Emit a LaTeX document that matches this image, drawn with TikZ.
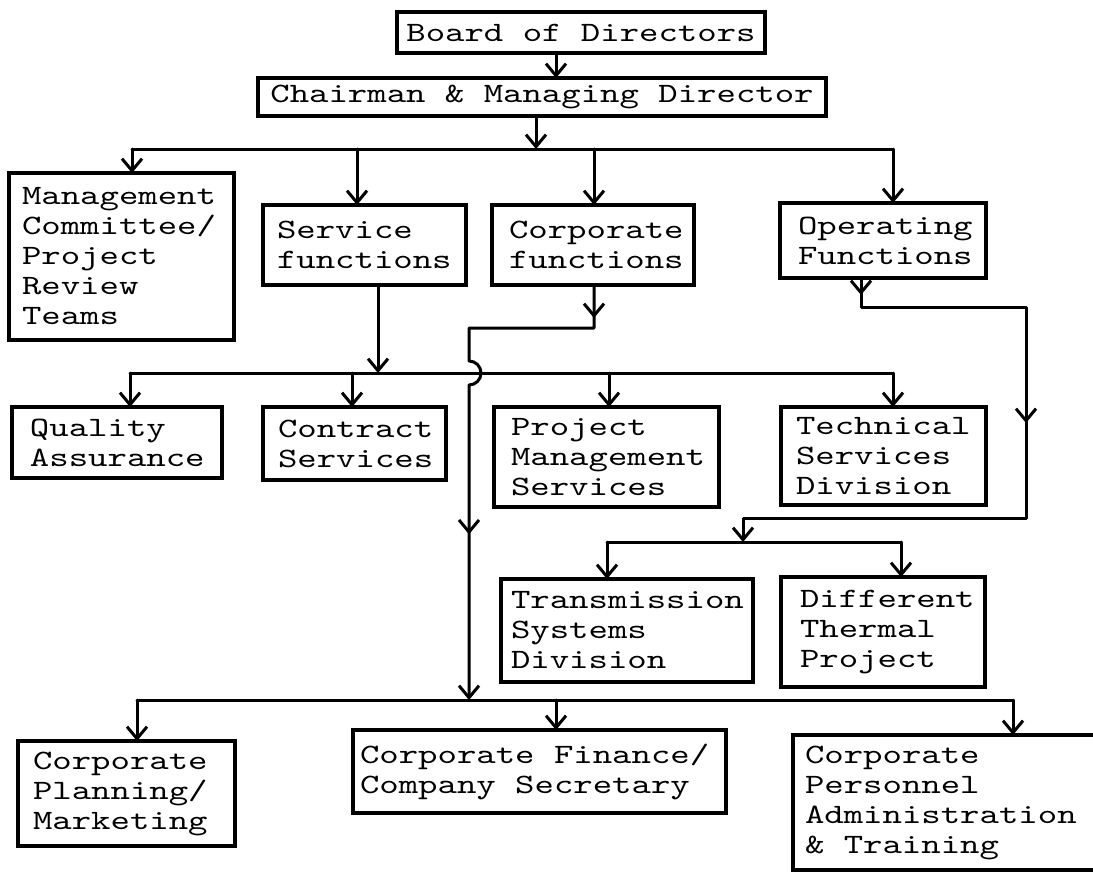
\documentclass[tikz,border=0pt]{standalone}
\usepackage{fontspec}
\newfontfamily\tw{lmmono10-regular.otf}[FakeStretch=1.32]
\usetikzlibrary{arrows.meta,decorations.markings}
\begin{document}
\begin{tikzpicture}[x=0.5pt,y=-0.5pt,
  font=\tw\fontsize{14}{15}\selectfont,
  bx/.style={draw, line width=1.9pt, rectangle, anchor=north west, outer sep=0pt, inner ysep=0pt, align=left},
  ln/.style={line width=1.5pt, line cap=round, line join=round},
  arr/.style={ln, -{Straight Barb[length=6pt,width=10pt]}},
  midarr/.style={postaction={decorate, decoration={markings, mark=at position #1 with {\arrow{Straight Barb[length=6pt,width=10pt]}}}}}
]
\useasboundingbox[fill=white] (0,0) rectangle (1093,879);

% boxes
\node[bx, minimum width=184pt, minimum height=20.5pt, align=center, inner xsep=0pt] (board) at (397,12) {Board of Directors};
\node[bx, minimum width=284pt, minimum height=19pt, align=center, inner xsep=0pt] (chair) at (258,78) {Chairman \& Managing Director};
\node[bx, minimum width=112.5pt, minimum height=83.5pt, inner xsep=6.5pt, text width=99.5pt] (mgmt) at (9,173) {Management\\Committee/\\Project\\Review\\Teams};
\node[bx, minimum width=101.5pt, minimum height=40pt, inner xsep=7pt, text width=87.5pt] (serv) at (263,205) {Service\\functions};
\node[bx, minimum width=101pt, minimum height=40pt, inner xsep=8.5pt, text width=84pt] (corp) at (492,205) {Corporate\\functions};
\node[bx, minimum width=103pt, minimum height=37.5pt, inner xsep=9pt, text width=85pt] (oper) at (780,203) {Operating\\Functions};
\node[bx, minimum width=105pt, minimum height=35.5pt, inner xsep=9pt, text width=87pt] (qual) at (12,407) {Quality\\Assurance};
\node[bx, minimum width=91.5pt, minimum height=36.5pt, inner xsep=7.5pt, text width=76.5pt] (contr) at (263,407) {Contract\\Services};
\node[bx, minimum width=112.5pt, minimum height=50pt, inner xsep=8.5pt, text width=95.5pt] (pm) at (494,407) {Project\\Management\\Services};
\node[bx, minimum width=102.5pt, minimum height=49pt, inner xsep=7.5pt, text width=87.5pt] (tech) at (781,407) {Technical\\Services\\Division};
\node[bx, minimum width=126pt, minimum height=51.5pt, inner xsep=5pt, text width=116pt] (trans) at (501,579) {Transmission\\Systems\\Division};
\node[bx, minimum width=102pt, minimum height=55pt, inner xsep=9.5pt, text width=83pt] (diff) at (781,577) {Different\\Thermal\\Project};
\node[bx, minimum width=108.5pt, minimum height=52.5pt, inner xsep=7.5pt, text width=93.5pt] (plan) at (18,741) {Corporate\\Planning/\\Marketing};
\node[bx, minimum width=186.5pt, minimum height=41.5pt, inner xsep=3.5pt, text width=179.5pt] (fin) at (353,730) {\spaceskip=0pt \xspaceskip=0pt Corporate Finance/\\Company Secretary};
\node[bx, draw=none, minimum width=150pt, minimum height=67.5pt, inner xsep=6pt, text width=138pt] (pers) at (793,735) {\spaceskip=0pt \xspaceskip=0pt Corporate\\Personnel\\Administration\\\& Training};
\draw[line width=1.9pt] (pers.north east) -- (pers.north west) -- (pers.south west) -- (pers.south east);

% coordinates
\coordinate (xa) at (556,0);
\coordinate (xb) at (536,149);
\coordinate (m1) at (132,149);
\coordinate (s1) at (357,149);
\coordinate (c1) at (594,149);
\coordinate (o1) at (893,149);
\coordinate (s2) at (378,373);
\coordinate (q2) at (130,373);
\coordinate (k2) at (352,373);
\coordinate (p2) at (609,373);
\coordinate (t2) at (893,373);
\coordinate (cA) at (594,328);
\coordinate (cB) at (469,328);
\coordinate (h1) at (469,361);
\coordinate (cC) at (469,700);
\coordinate (oA) at (861,307);
\coordinate (oB) at (1026,307);
\coordinate (oC) at (1026,518);
\coordinate (oD) at (743,518);
\coordinate (oE) at (743,542);
\coordinate (l1) at (607,542);
\coordinate (l2) at (901,542);
\coordinate (z1) at (137,700);
\coordinate (z2) at (556,700);
\coordinate (z3) at (1013,700);

% top level
\draw[arr] (xa |- board.south) -- (xa |- chair.north);
\draw[arr] (xb |- chair.south) -- (xb);
\draw[ln] (m1) -- (o1);
\draw[arr] (m1) -- (m1 |- mgmt.north);
\draw[arr] (s1) -- (s1 |- serv.north);
\draw[arr] (c1) -- (c1 |- corp.north);
\draw[arr] (o1) -- (o1 |- oper.north);

% service functions bus
\draw[arr] (s2 |- serv.south) -- (s2);
\draw[ln] (q2) -- (t2);
\draw[arr] (q2) -- (q2 |- qual.north);
\draw[arr] (k2) -- (k2 |- contr.north);
\draw[arr] (p2) -- (p2 |- pm.north);
\draw[arr] (t2) -- (t2 |- tech.north);

% corporate functions path with hop
\draw[arr, midarr=16.5pt, midarr=194pt] (cA |- corp.south) -- (cA) -- (cB) -- (h1)
  arc[start angle=-90, end angle=90, radius=12] -- (cC);

% operating functions path
\draw[arr, midarr=8.5pt, midarr=155pt] (oA |- oper.south) -- (oA) -- (oB) -- (oC) -- (oD) -- (oE);
\draw[ln] (l1) -- (l2);
\draw[arr] (l1) -- (l1 |- trans.north);
\draw[arr] (l2) -- (l2 |- diff.north);

% bottom bus
\draw[ln] (z1) -- (z3);
\draw[arr] (z1) -- (z1 |- plan.north);
\draw[arr] (z2) -- (z2 |- fin.north);
\draw[arr] (z3) -- (z3 |- pers.north);
\end{tikzpicture}
\end{document}
